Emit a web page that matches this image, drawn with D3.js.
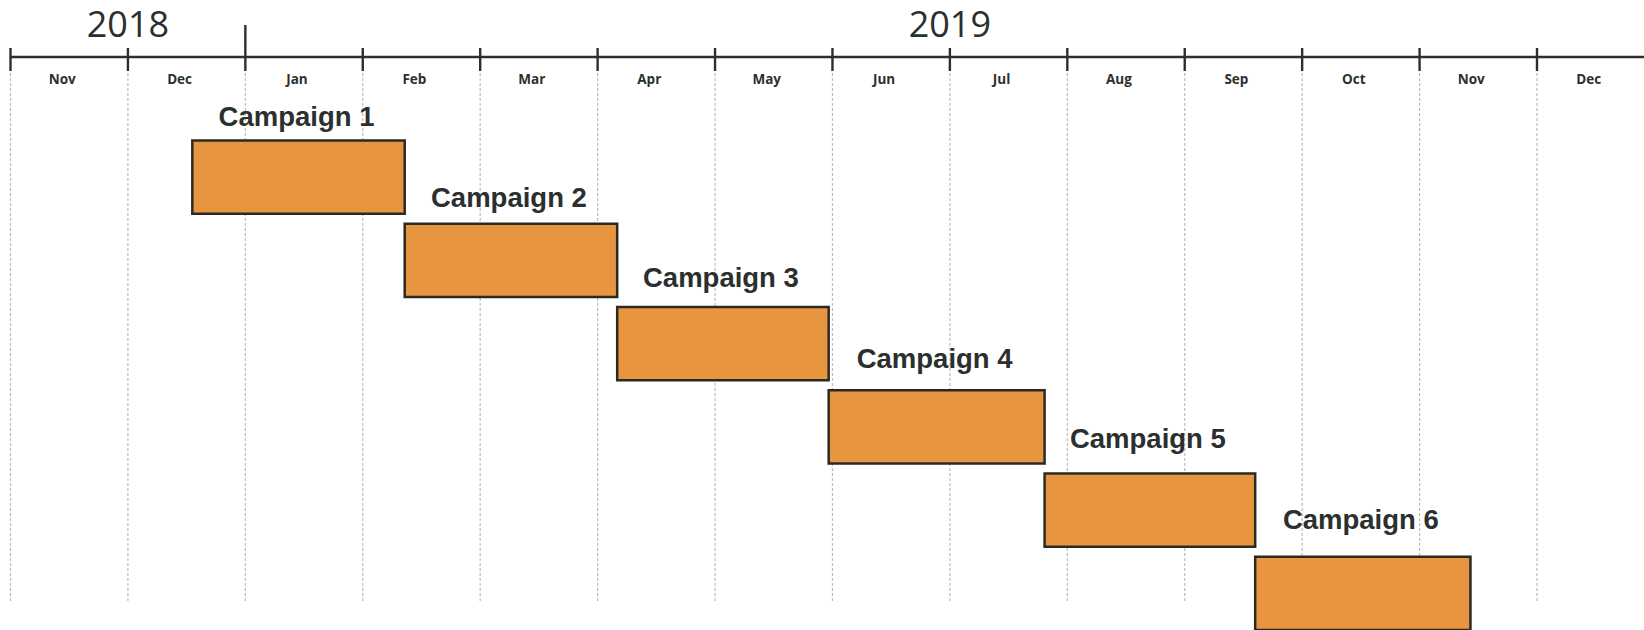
<!DOCTYPE html>
<html>
<head>
<meta charset="utf-8">
<script src="https://cdn.jsdelivr.net/npm/d3@7"></script>
<style>
  html, body { margin: 0; padding: 0; background: #ffffff; }
  svg { display: block; }
</style>
</head>
<body>
<svg id="chart" width="1644" height="630"></svg>
<script>
// ---------------- data ----------------
const months = ["Nov", "Dec", "Jan", "Feb", "Mar", "Apr", "May", "Jun", "Jul", "Aug", "Sep", "Oct", "Nov", "Dec"];
const monthYears = [2018, 2018, 2019, 2019, 2019, 2019, 2019, 2019, 2019, 2019, 2019, 2019, 2019, 2019];
const years = ["2018", "2019"];
const campaigns = ["Campaign 1", "Campaign 2", "Campaign 3", "Campaign 4", "Campaign 5", "Campaign 6"];
const startDates = ["2018-12-18", "2019-02-11", "2019-04-06", "2019-05-31", "2019-07-26", "2019-09-19"];
const endDates   = ["2019-02-11", "2019-04-06", "2019-05-31", "2019-07-26", "2019-09-19", "2019-11-14"];

// ---------------- helpers ----------------
const originYear = 2018, originMonth = 10; // Nov 2018 (0-based month)
function monthPos(str) {
  const [y, m, d] = str.split("-").map(Number);
  const idx = (y - originYear) * 12 + (m - 1 - originMonth);
  const dim = new Date(y, m, 0).getDate();
  return idx + (d - 1) / dim;
}

const svg = d3.select("#chart");
const W = 1644, H = 630;
const ink = "#2b302f";

// month-index scale (equal-width months)
const x = d3.scaleLinear().domain([0, months.length - 1]).range([10.5, 1537]);
const axisY = 57;

// ---------------- gridlines ----------------
const boundaries = d3.range(months.length);
svg.append("g").selectAll("line").data(boundaries).join("line")
  .attr("x1", d => x(d)).attr("x2", d => x(d))
  .attr("y1", 73).attr("y2", 601)
  .attr("stroke", "#bcbcbc").attr("stroke-width", 1.2)
  .attr("stroke-dasharray", "3,2");

// ---------------- axis ----------------
svg.append("line")
  .attr("x1", x(0)).attr("x2", W)
  .attr("y1", axisY).attr("y2", axisY)
  .attr("stroke", ink).attr("stroke-width", 2.6);

svg.append("g").selectAll("line").data(boundaries).join("line")
  .attr("x1", d => x(d)).attr("x2", d => x(d))
  .attr("y1", d => (monthYears[d] !== monthYears[d - 1] && d > 0) ? 25 : 48)
  .attr("y2", 71)
  .attr("stroke", ink).attr("stroke-width", 2.4);

// month labels
svg.append("g").selectAll("text").data(months).join("text")
  .attr("x", (d, i) => x(i + 0.44))
  .attr("y", 84)
  .attr("text-anchor", "middle")
  .attr("font-family", "'Open Sans', sans-serif")
  .attr("font-weight", 700)
  .attr("font-size", 13.5)
  .attr("fill", ink)
  .text(d => d);

// year labels, centered over each year's span
svg.append("g").selectAll("text").data(years).join("text")
  .attr("x", y => {
    const first = monthYears.indexOf(+y);
    const last = monthYears.lastIndexOf(+y) + 1;
    return (x(first) + x(last)) / 2;
  })
  .attr("y", 37)
  .attr("text-anchor", "middle")
  .attr("font-family", "'Open Sans', sans-serif")
  .attr("font-size", 36)
  .attr("fill", ink)
  .text(d => d);

// ---------------- bars ----------------
const yBand = d3.scaleBand().domain(campaigns).range([140.5, 630]).paddingInner(0.12).paddingOuter(0);
const yLabel = d3.scalePoint().domain(campaigns).range([126, 529]);

const rows = campaigns.map((c, i) => ({ name: c, s: monthPos(startDates[i]), e: monthPos(endDates[i]) }));

svg.append("g").selectAll("rect").data(rows).join("rect")
  .attr("x", d => x(d.s))
  .attr("y", d => yBand(d.name))
  .attr("width", d => x(d.e) - x(d.s))
  .attr("height", yBand.bandwidth())
  .attr("fill", "#e8953f")
  .attr("stroke", "#2a2a25")
  .attr("stroke-width", 2.5);

svg.append("g").selectAll("text").data(rows).join("text")
  .attr("x", d => (x(d.s) + x(d.e)) / 2 - 2)
  .attr("y", d => yLabel(d.name))
  .attr("text-anchor", "middle")
  .attr("font-family", "'Liberation Sans', Arial, sans-serif")
  .attr("font-weight", 700)
  .attr("font-size", 27.5)
  .attr("fill", ink)
  .text(d => d.name);
</script>
</body>
</html>
